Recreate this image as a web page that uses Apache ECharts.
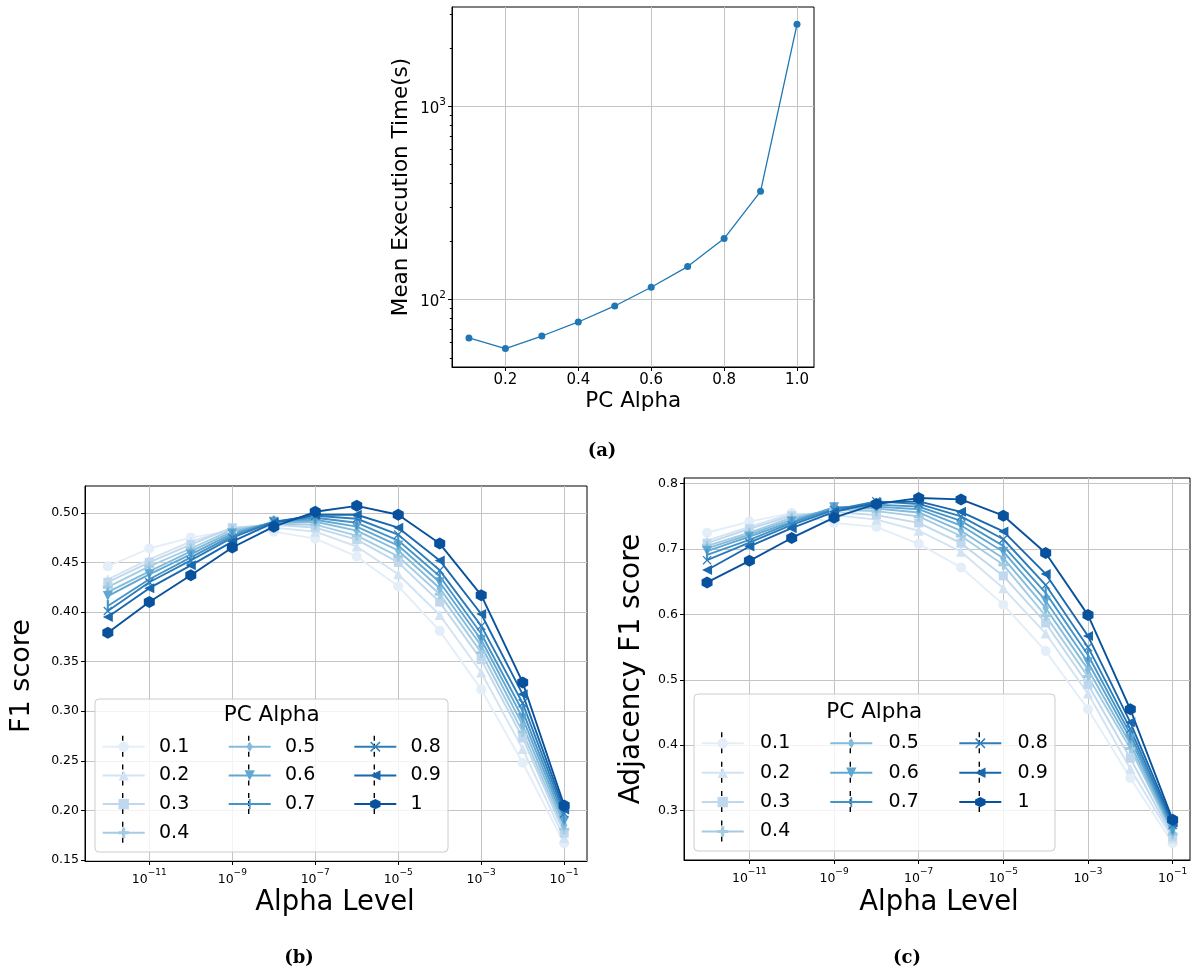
<!DOCTYPE html>
<html>
<head>
<meta charset="utf-8">
<script src="https://cdn.jsdelivr.net/npm/echarts@6/dist/echarts.min.js"></script>
<style>html,body{margin:0;padding:0;background:#fff}#chart{width:1193px;height:973px}</style>
</head>
<body>
<div id="chart"></div>
<script>
// ---------- data ----------
const pcAlpha = [0.1, 0.2, 0.3, 0.4, 0.5, 0.6, 0.7, 0.8, 0.9, 1.0];
const meanExecTime = [63.3, 55.8, 64.8, 76.6, 92.7, 115.8, 148.2, 206.9, 363.3, 2656];

const alphaLevels = [1e-12, 1e-11, 1e-10, 1e-9, 1e-8, 1e-7, 1e-6, 1e-5, 1e-4, 1e-3, 1e-2, 1e-1];
const pcNames = ['0.1', '0.2', '0.3', '0.4', '0.5', '0.6', '0.7', '0.8', '0.9', '1'];

const f1_01 = [0.446, 0.464, 0.475, 0.482, 0.481, 0.474, 0.456, 0.426, 0.381, 0.322, 0.248, 0.167];
const f1_02 = [0.433, 0.453, 0.471, 0.484, 0.485, 0.481, 0.466, 0.438, 0.397, 0.339, 0.262, 0.172];
const f1_03 = [0.430, 0.450, 0.468, 0.485, 0.488, 0.485, 0.473, 0.450, 0.410, 0.352, 0.273, 0.177];
const f1_04 = [0.425, 0.446, 0.464, 0.483, 0.489, 0.488, 0.477, 0.456, 0.418, 0.359, 0.279, 0.181];
const f1_05 = [0.420, 0.441, 0.461, 0.481, 0.490, 0.491, 0.482, 0.462, 0.424, 0.366, 0.286, 0.185];
const f1_06 = [0.416, 0.438, 0.458, 0.479, 0.491, 0.493, 0.486, 0.467, 0.430, 0.372, 0.293, 0.189];
const f1_07 = [0.406, 0.433, 0.455, 0.477, 0.491, 0.495, 0.490, 0.472, 0.436, 0.378, 0.300, 0.193];
const f1_08 = [0.401, 0.430, 0.452, 0.475, 0.491, 0.497, 0.494, 0.478, 0.442, 0.386, 0.308, 0.197];
const f1_09 = [0.395, 0.424, 0.447, 0.471, 0.490, 0.498, 0.498, 0.485, 0.452, 0.398, 0.317, 0.201];
const f1_10 = [0.379, 0.410, 0.437, 0.465, 0.486, 0.501, 0.507, 0.498, 0.469, 0.417, 0.329, 0.205];

const adj_01 = [0.725, 0.742, 0.755, 0.740, 0.734, 0.708, 0.672, 0.615, 0.544, 0.455, 0.350, 0.250];
const adj_02 = [0.713, 0.734, 0.754, 0.752, 0.745, 0.728, 0.696, 0.640, 0.571, 0.479, 0.364, 0.257];
const adj_03 = [0.709, 0.731, 0.751, 0.757, 0.752, 0.740, 0.709, 0.659, 0.587, 0.493, 0.380, 0.260];
const adj_04 = [0.705, 0.725, 0.748, 0.760, 0.758, 0.750, 0.720, 0.676, 0.598, 0.505, 0.395, 0.264];
const adj_05 = [0.701, 0.722, 0.745, 0.762, 0.762, 0.756, 0.728, 0.686, 0.610, 0.516, 0.402, 0.267];
const adj_06 = [0.697, 0.719, 0.742, 0.764, 0.765, 0.761, 0.736, 0.696, 0.621, 0.527, 0.410, 0.270];
const adj_07 = [0.691, 0.714, 0.740, 0.762, 0.768, 0.765, 0.743, 0.705, 0.633, 0.538, 0.417, 0.274];
const adj_08 = [0.683, 0.710, 0.737, 0.760, 0.773, 0.769, 0.750, 0.715, 0.645, 0.550, 0.425, 0.278];
const adj_09 = [0.668, 0.704, 0.732, 0.757, 0.771, 0.773, 0.757, 0.727, 0.662, 0.567, 0.435, 0.282];
const adj_10 = [0.649, 0.682, 0.717, 0.748, 0.769, 0.778, 0.776, 0.751, 0.694, 0.599, 0.455, 0.286];

const pcTicks = [0.2, 0.4, 0.6, 0.8, 1.0];
const timeTicks = [100, 1000];
const timeMinorTicks = [50, 60, 70, 80, 90, 200, 300, 400, 500, 600, 700, 800, 900, 2000, 3000];
const alphaTicks = [1e-11, 1e-9, 1e-7, 1e-5, 1e-3, 1e-1];
const f1Ticks = [0.15, 0.20, 0.25, 0.30, 0.35, 0.40, 0.45, 0.50];
const adjTicks = [0.3, 0.4, 0.5, 0.6, 0.7, 0.8];

const f1Data = [f1_01, f1_02, f1_03, f1_04, f1_05, f1_06, f1_07, f1_08, f1_09, f1_10];
const adjData = [adj_01, adj_02, adj_03, adj_04, adj_05, adj_06, adj_07, adj_08, adj_09, adj_10];

// ---------- styles ----------
const FONT = 'DejaVu Sans';
const colors = ['#e3eef9', '#d2e3f3', '#bfd8ed', '#a3cce3', '#82bbdb', '#61a7d2', '#4594c7', '#2d7dbb', '#1967ad', '#08519c'];
// all custom paths live in a 10x10 box so they keep their shape in legend icons too
const symbols = [
  'circle',
  'triangle',
  'rect',
  'path://M3.5,0H6.5V3.5H10V6.5H6.5V10H3.5V6.5H0V3.5H3.5Z',
  'path://M0,0M10,10M5,0L8,5L5,10L2,5Z',
  'path://M0,0.5L10,0.5L5,9.5Z',
  'path://M0,0M10,10M4.1,0H5.9V10H4.1Z',
  'path://M0,1L1,0L5,4L9,0L10,1L6,5L10,9L9,10L5,6L1,10L0,9L4,5Z',
  'path://M0.5,5L9.5,0L9.5,10Z',
  'path://M5,0L9.33,2.5L9.33,7.5L5,10L0.67,7.5L0.67,2.5Z'
];
const symbolSizes = [10, 10, 9, 10, 11, 10, 12, 9, 10, [11, 12]];

function powLabel(v) {
  const e = Math.round(Math.log10(v));
  return '{b|10}{s|' + (e < 0 ? '\u2212' : '') + Math.abs(e) + '}';
}

const gridLine = {show: true, lineStyle: {color: '#c4c4c4', width: 1}};
const axLine = {show: true, lineStyle: {color: '#000', width: 1}};
function tick(vals, len) {
  return {show: true, length: len || 4, inside: false, lineStyle: {color: '#000', width: 1}, customValues: vals};
}
const smallRich = {
  b: {fontSize: 12.5, lineHeight: 18, verticalAlign: 'bottom', fontFamily: FONT, color: '#000'},
  s: {fontSize: 9, lineHeight: 9, verticalAlign: 'top', fontFamily: FONT, color: '#000'}
};

const grids = [
  {left: 452, top: 7, width: 362, height: 360},
  {left: 85, top: 486, width: 502, height: 375},
  {left: 684, top: 478, width: 506, height: 382}
].map(g => Object.assign(g, {show: true, borderColor: '#000', borderWidth: 1, backgroundColor: 'transparent', containLabel: false}));

const xAxes = [
  {type: 'value', gridIndex: 0, min: 0.0535, max: 1.0466,
    axisLine: axLine, axisTick: tick(pcTicks), splitLine: gridLine,
    axisLabel: {customValues: pcTicks, formatter: v => v.toFixed(1), color: '#000', fontFamily: FONT, fontSize: 15, margin: 6}},
  {type: 'log', logBase: 10, gridIndex: 1, min: Math.pow(10, -12.55), max: Math.pow(10, -0.45),
    axisLine: axLine, axisTick: tick(alphaTicks), splitLine: gridLine, minorTick: {show: false}, minorSplitLine: {show: false},
    axisLabel: {customValues: alphaTicks, formatter: powLabel, color: '#000', fontFamily: FONT, margin: 7, rich: smallRich}},
  {type: 'log', logBase: 10, gridIndex: 2, min: Math.pow(10, -12.545), max: Math.pow(10, -0.59),
    axisLine: axLine, axisTick: tick(alphaTicks), splitLine: gridLine, minorTick: {show: false}, minorSplitLine: {show: false},
    axisLabel: {customValues: alphaTicks, formatter: powLabel, color: '#000', fontFamily: FONT, margin: 7, rich: smallRich}}
];

const yAxes = [
  {type: 'log', logBase: 10, gridIndex: 0, min: 44.8, max: 3265,
    axisLine: axLine, axisTick: tick(timeTicks, 4), splitLine: gridLine, minorTick: {show: false},
    axisLabel: {customValues: timeTicks, formatter: powLabel, color: '#000', fontFamily: FONT, margin: 6,
      rich: {b: {fontSize: 15, lineHeight: 20, verticalAlign: 'bottom', fontFamily: FONT, color: '#000'},
             s: {fontSize: 10.5, lineHeight: 10, verticalAlign: 'top', fontFamily: FONT, color: '#000'}}}},
  {type: 'log', logBase: 10, gridIndex: 0, min: 44.8, max: 3265, position: 'left', offset: 0,
    axisLine: {show: false}, axisTick: tick(timeMinorTicks, 2.2), splitLine: {show: false},
    axisLabel: {show: false}},
  {type: 'value', gridIndex: 1, min: 0.149, max: 0.527,
    axisLine: axLine, axisTick: tick(f1Ticks), splitLine: gridLine,
    axisLabel: {customValues: f1Ticks, formatter: v => v.toFixed(2), color: '#000', fontFamily: FONT, fontSize: 12.5, margin: 6}},
  {type: 'value', gridIndex: 2, min: 0.2245, max: 0.8087,
    axisLine: axLine, axisTick: tick(adjTicks), splitLine: gridLine,
    axisLabel: {customValues: adjTicks, formatter: v => v.toFixed(1), color: '#000', fontFamily: FONT, fontSize: 12.5, margin: 6}}
];

const series = [{
  type: 'line', name: 'time', xAxisIndex: 0, yAxisIndex: 0,
  data: pcAlpha.map((p, i) => [p, meanExecTime[i]]),
  symbol: 'circle', symbolSize: 7,
  lineStyle: {color: '#1f77b4', width: 1.3}, itemStyle: {color: '#1f77b4'},
  silent: true, emphasis: {disabled: true}
}];
function addPanel(dataSet, xi, yi) {
  for (let i = 0; i < 10; i++) {
    series.push({
      type: 'line', name: pcNames[i], xAxisIndex: xi, yAxisIndex: yi,
      data: alphaLevels.map((a, j) => [a, dataSet[i][j]]),
      symbol: symbols[i], symbolSize: symbolSizes[i],
      lineStyle: {color: colors[i], width: 1.9}, itemStyle: {color: colors[i]},
      silent: true, emphasis: {disabled: true}
    });
  }
}
addPanel(f1Data, 1, 2);
addPanel(adjData, 2, 3);

// ---------- legends ----------
const legendCols = [
  {names: ['0.1', '0.2', '0.3', '0.4'], b: 101.7, c: 700.7},
  {names: ['0.5', '0.6', '0.7'], b: 227.7, c: 829.3},
  {names: ['0.8', '0.9', '1'], b: 353.3, c: 958.3}
];
const panelLegend = {
  b: {top: 746.7, step: 28.7, pad: 9.3, frame: [95, 699, 353, 153], title: [271.7, 715]},
  c: {top: 743.3, step: 29.4, pad: 11.3, frame: [694, 694, 361, 157], title: [874.3, 712.7]}
};
const legends = [];
const graphics = [];
['b', 'c'].forEach(p => {
  const L = panelLegend[p];
  graphics.push({type: 'rect', z: 3, shape: {x: L.frame[0], y: L.frame[1], width: L.frame[2], height: L.frame[3], r: 4},
    style: {fill: 'rgba(255,255,255,0.8)', stroke: '#cccccc', lineWidth: 1}});
  graphics.push({type: 'text', z: 5, x: L.title[0], y: L.title[1],
    style: {text: 'PC Alpha', font: '21.5px "DejaVu Sans"', fill: '#000', textAlign: 'center', textVerticalAlign: 'middle'}});
  legendCols.forEach(col => {
    const ih = 20;
    legends.push({
      show: true, orient: 'vertical', left: col[p], top: L.top - ih / 2, padding: 0,
      itemWidth: 42, itemHeight: 13, itemGap: L.step - ih, selectedMode: false, z: 6,
      data: col.names,
      textStyle: {fontSize: 19, lineHeight: ih, color: '#000', fontFamily: FONT, padding: [0, 0, 0, L.pad]}
    });
    col.names.forEach((n, k) => {
      const cx = col[p] + 21, cy = L.top + k * L.step;
      graphics.push({type: 'line', z: 4, shape: {x1: cx, y1: cy - 11, x2: cx, y2: cy + 11},
        style: {stroke: '#000', lineWidth: 1.4, lineDash: [5, 3]}});
    });
  });
});

// axis titles and captions
function txt(s, x, y, size, rot, bold, serif) {
  return {type: 'text', z: 5, x: x, y: y, rotation: rot || 0,
    style: {text: s, font: (bold ? 'bold ' : '') + size + 'px ' + (serif ? '"DejaVu Serif"' : '"DejaVu Sans"'),
      fill: '#000', textAlign: 'center', textVerticalAlign: 'middle'}};
}
graphics.push(txt('PC Alpha', 633.3, 401.7, 21.5));
graphics.push(txt('Mean Execution Time(s)', 401, 187, 21.5, Math.PI / 2));
graphics.push(txt('Alpha Level', 335, 902.7, 27.5));
graphics.push(txt('F1 score', 22, 676, 27, Math.PI / 2));
graphics.push(txt('Alpha Level', 939, 903, 27.5));
graphics.push(txt('Adjacency F1 score', 632, 669, 28, Math.PI / 2));
graphics.push(txt('(a)', 602, 451.7, 18, 0, true, true));
graphics.push(txt('(b)', 299, 958, 18, 0, true, true));
graphics.push(txt('(c)', 907, 958, 18, 0, true, true));

const chart = echarts.init(document.getElementById('chart'), null, {renderer: 'canvas'});
chart.setOption({
  backgroundColor: '#fff',
  animation: false,
  textStyle: {fontFamily: FONT},
  grid: grids,
  xAxis: xAxes,
  yAxis: yAxes,
  legend: legends,
  series: series,
  graphic: graphics
});
</script>
</body>
</html>
